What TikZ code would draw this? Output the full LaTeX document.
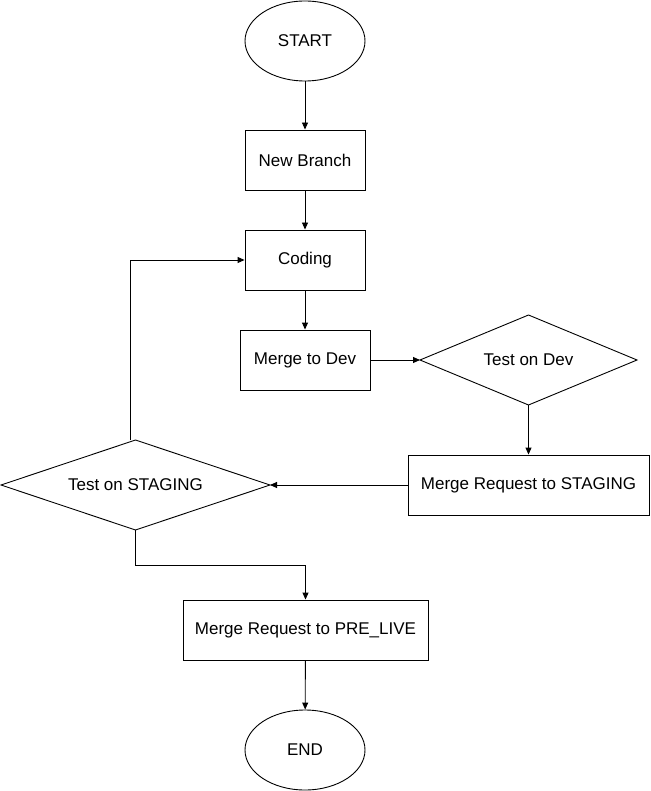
\documentclass[tikz,border=0pt]{standalone}
\usepackage{fontspec}
\setmainfont{Liberation Sans}
\usetikzlibrary{shapes.geometric,arrows.meta}
\begin{document}
\begin{tikzpicture}[x=1pt,y=-1pt,
  every node/.style={font=\fontsize{17}{20}\selectfont, draw, line width=0.9pt, inner sep=0pt},
  box/.style={rectangle},
  ell/.style={ellipse},
  dia/.style={diamond, aspect=2.4},
  arr/.style={-{Triangle[length=7pt,width=6pt]}, line width=0.9pt}]
\useasboundingbox (0,0) rectangle (650,791);
\node[ell, minimum width=120pt, minimum height=80pt] (start) at (305,41) {START};
\node[box, minimum width=120pt, minimum height=60pt] (nb) at (305,160) {New Branch};
\node[box, minimum width=120pt, minimum height=60pt] (cod) at (305,260) {Coding};
\node[box, minimum width=130pt, minimum height=60pt] (md) at (305,360) {Merge to Dev};
\node[draw=none, minimum width=217pt, minimum height=90pt] (td) at (528.5,360) {Test on Dev};
\draw[line width=0.9pt] (420,360) -- (528.5,315) -- (637,360) -- (528.5,405) -- cycle;
\node[box, minimum width=241pt, minimum height=60pt] (mrs) at (528.5,485) {Merge Request to STAGING};
\node[draw=none, minimum width=269pt, minimum height=90pt] (ts) at (135.5,485) {Test on STAGING};
\draw[line width=0.9pt] (1,485) -- (135.5,440) -- (270,485) -- (135.5,530) -- cycle;
\node[box, minimum width=245pt, minimum height=60pt] (mrp) at (305.5,630) {Merge Request to PRE\_LIVE};
\node[ell, minimum width=120pt, minimum height=80pt] (end) at (305,750) {END};
\coordinate (tdw) at (420,360);
\coordinate (tds) at (528.5,405);
\coordinate (tse) at (270,485);
\coordinate (tsn) at (130,440);
\coordinate (tsb) at (135,530);
\draw[arr] (start) -- (nb);
\draw[arr] (nb) -- (cod);
\draw[arr] (cod) -- (md);
\draw[arr] (md) -- (tdw);
\draw[arr] (tds) -- (mrs);
\draw[arr] (mrs) -- (tse);
\draw[arr] (tsn) |- (cod.west);
\draw[arr] (tsb) -- (135,565) -| (mrp.north);
\draw[arr] (mrp) -- (end);
\end{tikzpicture}
\end{document}
